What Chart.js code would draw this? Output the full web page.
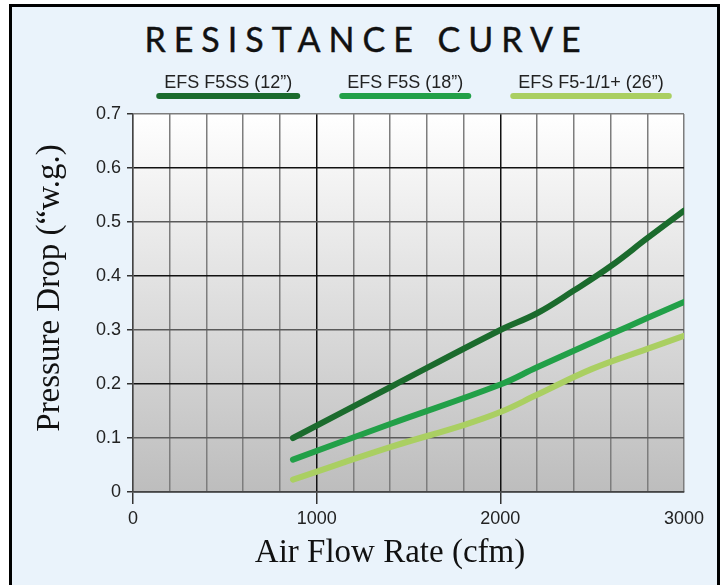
<!DOCTYPE html>
<html>
<head>
<meta charset="utf-8">
<script src="https://cdn.jsdelivr.net/npm/chart.js@4.4.1/dist/chart.umd.min.js"></script>
<style>
    html, body { margin: 0; padding: 0; background: #ffffff; }
    #frame {
        position: absolute; left: 9px; top: 4px; width: 705px; height: 620px;
        border: 3px solid #000; background: #eaf3fb;
    }
    #title {
        position: absolute; left: 4px; top: 22px; width: 725px; text-align: center;
        font-family: Lato, "Open Sans", sans-serif; font-size: 34px; line-height: 34px;
        letter-spacing: 8px; color: #111; -webkit-text-stroke: 0.4px #111;
    }
    #wrap { position: absolute; left: 0; top: 0; width: 725px; height: 585px; }
</style>
</head>
<body>
<div id="frame"></div>
<div id="title">RESISTANCE CURVE</div>
<div id="wrap"><canvas id="chart" width="725" height="585"></canvas></div>
<script>
// values
const seriesNames = ['EFS F5SS (12\u201D)', 'EFS F5S (18\u201D)', 'EFS F5-1/1+ (26\u201D)'];
const seriesColors = ['#1b6b2d', '#22a048', '#aacf62'];

const flowF5SS = [871, 1400, 2000, 2200, 2400, 2600, 2800, 3000];
const dropF5SS = [0.100, 0.194, 0.300, 0.331, 0.373, 0.418, 0.470, 0.521];

const flowF5S = [871, 1400, 2000, 2200, 2600, 2800, 3000];
const dropF5S = [0.060, 0.126, 0.199, 0.231, 0.292, 0.322, 0.352];

const flowF51 = [871, 1400, 1800, 2000, 2200, 2500, 2800, 3000];
const dropF51 = [0.023, 0.083, 0.124, 0.148, 0.180, 0.228, 0.265, 0.289];

const xTickLabels = [0, 1000, 2000, 3000];
const yTickLabels = [0, 0.1, 0.2, 0.3, 0.4, 0.5, 0.6, 0.7];

const xTitle = 'Air Flow Rate (cfm)';
const yTitle = 'Pressure Drop (\u201Cw.g.)';

function toPoints(xs, ys) {
    return xs.map((x, i) => ({ x: x, y: ys[i] }));
}

const plotBackground = {
    id: 'plotBackground',
    beforeDraw(chart) {
        const { ctx, chartArea: a } = chart;
        const g = ctx.createLinearGradient(0, a.top, 0, a.bottom);
        g.addColorStop(0, '#ffffff');
        g.addColorStop(1, '#bdbdbd');
        ctx.save();
        ctx.fillStyle = g;
        ctx.fillRect(a.left, a.top, a.right - a.left, a.bottom - a.top);
        ctx.restore();
    }
};

// legend: label text with a thick coloured bar under it
const barLegend = {
    id: 'barLegend',
    afterDraw(chart) {
        const ctx = chart.ctx;
        const sets = chart.data.datasets;
        ctx.save();
        ctx.font = '18px "Liberation Sans", Arial, sans-serif';
        const widths = sets.map(d => ctx.measureText(d.label).width + 16);
        const gap = 39;
        const total = widths.reduce((a, b) => a + b, 0) + gap * (sets.length - 1);
        let x = 414 - total / 2;
        sets.forEach((d, i) => {
            ctx.fillStyle = '#222';
            ctx.textAlign = 'center';
            ctx.textBaseline = 'middle';
            ctx.fillText(d.label, x + widths[i] / 2, 83);
            ctx.strokeStyle = d.borderColor;
            ctx.lineWidth = 6;
            ctx.lineCap = 'round';
            ctx.beginPath();
            ctx.moveTo(x + 3, 96);
            ctx.lineTo(x + widths[i] - 3, 96);
            ctx.stroke();
            x += widths[i] + gap;
        });
        ctx.restore();
    }
};

const axisTitles = {
    id: 'axisTitles',
    afterDraw(chart) {
        const ctx = chart.ctx;
        ctx.save();
        ctx.fillStyle = '#111';
        ctx.font = '33px "Liberation Serif", "Times New Roman", serif';
        ctx.textAlign = 'center';
        ctx.textBaseline = 'middle';
        ctx.fillText(xTitle, 390, 553);
        ctx.translate(50, 288);
        ctx.rotate(-Math.PI / 2);
        ctx.fillText(yTitle, 0, 0);
        ctx.restore();
    }
};

const ctx = document.getElementById('chart').getContext('2d');
new Chart(ctx, {
    type: 'line',
    data: {
        datasets: [
            { label: seriesNames[0], data: toPoints(flowF5SS, dropF5SS), borderColor: seriesColors[0] },
            { label: seriesNames[1], data: toPoints(flowF5S, dropF5S), borderColor: seriesColors[1] },
            { label: seriesNames[2], data: toPoints(flowF51, dropF51), borderColor: seriesColors[2] }
        ].map(d => Object.assign(d, {
            borderWidth: 6,
            borderCapStyle: 'round',
            borderJoinStyle: 'round',
            pointRadius: 0,
            fill: false,
            tension: 0.4
        }))
    },
    options: {
        responsive: false,
        animation: false,
        layout: { padding: { top: 114, right: 41, left: 0, bottom: 0 } },
        plugins: {
            legend: { display: false },
            tooltip: { enabled: false }
        },
        scales: {
            x: {
                type: 'linear',
                min: 0,
                max: 3000,
                afterFit: s => { s.height = 93; },
                ticks: {
                    stepSize: 200,
                    autoSkip: false,
                    maxRotation: 0,
                    padding: 4,
                    color: '#222',
                    font: { family: '"Liberation Sans", Arial, sans-serif', size: 18 },
                    callback: v => xTickLabels.includes(v) ? String(v) : ''
                },
                grid: {
                    lineWidth: 1.5,
                    tickLength: 12,
                    color: c => (c.tick && c.tick.value % 1000 === 0 && c.tick.value > 0 && c.tick.value < 3000) ? '#111' : '#7d7d7d',
                    tickColor: c => (c.tick && c.tick.value % 1000 === 0 && c.tick.value < 3000) ? '#333' : 'rgba(0,0,0,0)'
                },
                border: { color: '#444', width: 1.5 }
            },
            y: {
                min: 0,
                max: 0.7,
                afterFit: s => { s.width = 133; },
                ticks: {
                    stepSize: 0.1,
                    padding: 6,
                    color: '#222',
                    font: { family: '"Liberation Sans", Arial, sans-serif', size: 18 },
                    callback: (v, i) => String(yTickLabels[i])
                },
                grid: {
                    lineWidth: 1.5,
                    tickLength: 6,
                    color: c => {
                        const k = Math.round(c.tick.value * 10);
                        if (k === 7) return '#7d7d7d';
                        return k % 2 === 0 ? '#111' : '#5a5a5a';
                    },
                    tickColor: '#333'
                },
                border: { color: '#444', width: 1.5 }
            }
        }
    },
    plugins: [plotBackground, barLegend, axisTitles]
});
</script>
</body>
</html>
